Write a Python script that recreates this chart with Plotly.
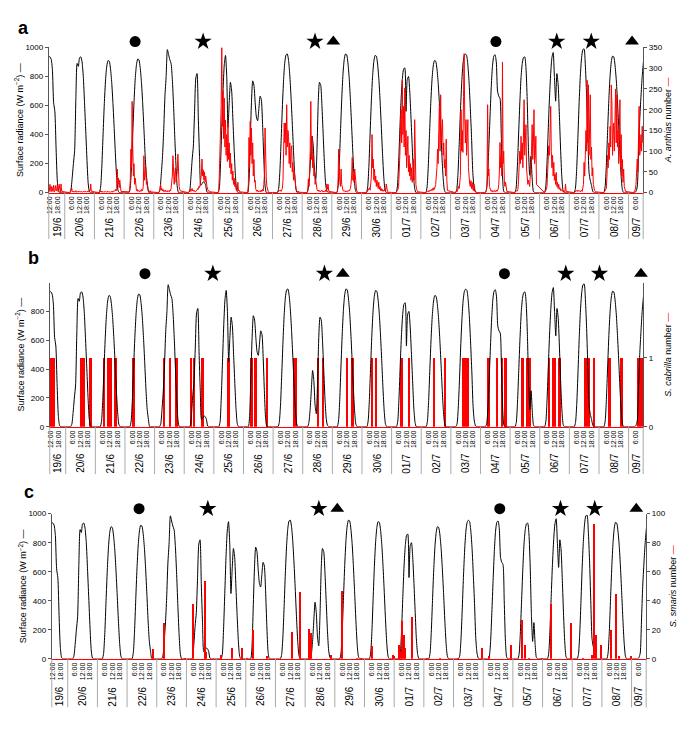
import plotly.graph_objects as go

W, H = 685, 733

# time axis in hours counted from 19/6 00:00
day_labels = ["19/6", "20/6", "21/6", "22/6", "23/6", "24/6", "25/6", "26/6", "27/6", "28/6",
              "29/6", "30/6", "01/7", "02/7", "03/7", "04/7", "05/7", "06/7", "07/7", "08/7", "09/7"]
hour_ticks = [6, 12, 18]
hour_text = ["6:00", "12:00", "18:00"]
t_start, t_end = 11.1, 491.8

# surface radiance (W m-2), one value per hour (0..23) for every day
radiance = [
    [None] * 11 + [940, 935, 920, 850, 620, 560, 300, 80, 10, 0, 0, 0, 0],
    [0, 0, 0, 0, 0, 20, 100, 200, 290, 650, 890, 870, 930, 935, 900, 800, 620, 420, 220, 60, 5, 0, 0, 0],
    [0, 0, 0, 0, 0, 38, 182, 402, 613, 776, 872, 910, 905, 853, 757, 613, 441, 259, 105, 19, 0, 0, 0, 0],
    [0, 0, 0, 0, 0, 39, 184, 407, 620, 784, 881, 920, 915, 862, 765, 620, 445, 261, 120, 50, 0, 0, 0, 0],
    [0, 0, 0, 0, 0, 20, 120, 240, 420, 660, 800, 985, 950, 915, 890, 780, 600, 380, 180, 40, 0, 0, 0, 0],
    [0, 0, 0, 0, 0, 10, 100, 225, 320, 560, 790, 820, 520, 250, 50, 60, 75, 70, 50, 5, 0, 0, 0, 0],
    [0, 0, 0, 0, 0, 30, 200, 450, 700, 880, 945, 800, 450, 620, 760, 700, 500, 300, 120, 20, 0, 0, 0, 0],
    [0, 0, 0, 0, 0, 80, 350, 620, 770, 740, 620, 520, 495, 580, 665, 640, 470, 230, 50, 0, 0, 0, 0, 0],
    [0, 0, 0, 0, 0, 30, 150, 360, 590, 780, 900, 950, 955, 910, 810, 660, 480, 290, 120, 25, 0, 0, 0, 0],
    [0, 0, 0, 0, 0, 30, 120, 260, 390, 320, 150, 90, 300, 620, 760, 740, 600, 400, 200, 60, 10, 0, 0, 0],
    [0, 0, 0, 0, 0, 40, 191, 422, 643, 814, 915, 955, 950, 894, 794, 643, 462, 271, 111, 20, 0, 0, 0, 0],
    [0, 0, 0, 0, 0, 40, 189, 418, 637, 806, 905, 945, 940, 886, 786, 637, 458, 269, 109, 20, 0, 0, 0, 0],
    [0, 0, 0, 0, 0, 40, 200, 430, 640, 780, 850, 860, 560, 780, 800, 700, 520, 320, 130, 30, 0, 0, 0, 0],
    [0, 0, 0, 0, 0, 38, 182, 402, 613, 776, 872, 910, 905, 853, 757, 613, 441, 259, 105, 19, 0, 0, 0, 0],
    [0, 0, 0, 0, 0, 20, 130, 330, 560, 750, 880, 940, 955, 945, 880, 760, 580, 380, 140, 40, 5, 0, 0, 0],
    [0, 0, 0, 0, 0, 20, 120, 320, 540, 740, 880, 940, 950, 900, 700, 665, 650, 400, 120, 10, 0, 0, 0, 0],
    [0, 0, 0, 0, 0, 30, 170, 390, 610, 790, 890, 930, 935, 860, 640, 300, 120, 250, 100, 10, 0, 0, 0, 0],
    [0, 0, 0, 0, 0, 40, 200, 430, 650, 820, 930, 965, 800, 630, 820, 750, 540, 300, 110, 15, 0, 0, 0, 0],
    [0, 0, 0, 0, 0, 30, 160, 380, 620, 810, 930, 985, 990, 880, 680, 400, 140, 85, 50, 10, 0, 0, 0, 0],
    [0, 0, 0, 0, 0, 40, 188, 415, 633, 801, 900, 940, 935, 880, 781, 633, 455, 267, 109, 20, 0, 0, 0, 0],
    [0, 0, 0, 0, 0, 0, 10, 40, 260, 500, 660, 800, 900] + [None] * 11,
]

# A. anthias counts, half-hourly from 4:00 to 21:30 of every day
anthias = [
    [None] * 14 + [14, 3, 20, 5, 2, 15, 8, 3, 18, 2, 5, 17, 4, 6, 19, 3, 5, 20, 2, 0, 21, 3],
    [0, 0, 3, 13, 5, 2, 4, 1, 3, 2, 5, 1, 2, 3, 1, 2, 4, 2, 1, 3, 2, 1, 3, 1, 2, 4, 2, 1, 3, 2, 1, 2, 6, 4, 21, 3],
    [0, 5, 2, 4, 1, 2, 3, 1, 2, 1, 3, 1, 2, 1, 3, 2, 1, 2, 1, 3, 2, 1, 4, 2, 3, 5, 8, 4, 10, 57, 20, 35, 12, 30, 8, 3],
    [2, 5, 30, 105, 60, 220, 110, 40, 70, 20, 35, 10, 5, 8, 3, 6, 4, 2, 5, 3, 8, 4, 6, 15, 89, 30, 45, 61, 20, 25, 8, 4, 3, 2, 5, 2],
    [0, 3, 8, 21, 6, 10, 4, 8, 3, 5, 2, 6, 3, 4, 2, 5, 3, 2, 6, 4, 10, 25, 40, 89, 30, 20, 45, 60, 25, 35, 50, 93, 30, 15, 8, 4],
    [0, 2, 4, 8, 3, 5, 10, 4, 6, 3, 5, 2, 4, 3, 6, 10, 8, 15, 12, 20, 30, 45, 81, 40, 55, 30, 50, 25, 40, 20, 15, 8, 5, 3, 4, 2],
    [0, 5, 40, 100, 147, 210, 350, 160, 245, 130, 228, 110, 175, 90, 140, 75, 168, 80, 120, 60, 95, 45, 70, 30, 52, 20, 35, 15, 25, 8, 12, 5, 25, 4, 6, 2],
    [0, 20, 133, 60, 172, 90, 156, 70, 120, 40, 80, 25, 30, 8, 5, 3, 6, 2, 4, 3, 5, 2, 6, 3, 8, 4, 20, 45, 156, 60, 33, 15, 6, 3, 2, 0],
    [0, 2, 3, 5, 4, 6, 3, 8, 10, 30, 80, 168, 120, 168, 90, 212, 110, 150, 136, 70, 120, 60, 100, 113, 50, 73, 30, 55, 41, 15, 10, 5, 3, 2, 4, 1],
    [0, 5, 33, 15, 50, 100, 220, 80, 136, 60, 89, 40, 55, 20, 30, 10, 8, 4, 6, 3, 5, 2, 4, 3, 6, 2, 3, 5, 4, 2, 6, 3, 21, 8, 20, 3],
    [0, 3, 20, 105, 40, 25, 15, 57, 20, 10, 6, 4, 3, 5, 2, 4, 3, 2, 5, 3, 4, 6, 10, 20, 40, 85, 30, 45, 25, 57, 41, 15, 6, 3, 2, 0],
    [0, 2, 3, 5, 8, 12, 6, 20, 40, 140, 60, 81, 30, 57, 25, 40, 15, 30, 20, 10, 25, 8, 15, 5, 10, 4, 8, 3, 6, 4, 10, 5, 21, 6, 3, 1],
    [0, 3, 5, 8, 15, 40, 90, 150, 200, 120, 271, 140, 208, 110, 252, 90, 150, 60, 110, 136, 50, 90, 40, 70, 30, 60, 25, 40, 80, 30, 176, 50, 20, 8, 4, 2],
    [0, 2, 3, 4, 2, 5, 3, 6, 4, 8, 5, 10, 6, 12, 8, 15, 20, 40, 60, 105, 70, 150, 212, 100, 236, 120, 160, 176, 90, 120, 60, 80, 40, 129, 30, 5],
    [0, 2, 5, 3, 8, 15, 10, 30, 41, 200, 100, 150, 97, 232, 335, 180, 120, 176, 90, 136, 176, 60, 30, 20, 15, 29, 10, 25, 8, 5, 20, 4, 3, 2, 1, 0],
    [0, 2, 5, 20, 212, 40, 57, 15, 8, 5, 3, 6, 2, 4, 3, 5, 2, 4, 6, 3, 5, 8, 20, 50, 121, 60, 90, 40, 315, 70, 100, 30, 15, 25, 8, 3],
    [0, 2, 3, 5, 4, 8, 30, 60, 100, 70, 136, 80, 120, 60, 150, 224, 90, 130, 164, 57, 40, 20, 30, 25, 15, 40, 60, 100, 164, 80, 120, 200, 70, 90, 136, 20],
    [0, 2, 4, 8, 15, 40, 60, 113, 90, 136, 208, 100, 60, 90, 40, 73, 30, 45, 20, 49, 15, 25, 10, 20, 8, 12, 5, 8, 4, 3, 6, 2, 3, 2, 21, 3],
    [0, 2, 3, 2, 5, 3, 6, 4, 3, 5, 2, 4, 6, 3, 10, 20, 73, 40, 89, 150, 100, 271, 120, 260, 90, 140, 236, 80, 110, 40, 60, 20, 10, 5, 3, 2],
    [0, 2, 3, 5, 10, 40, 90, 60, 120, 80, 160, 110, 260, 216, 90, 140, 168, 100, 180, 250, 120, 236, 110, 150, 70, 120, 224, 60, 140, 40, 80, 25, 57, 15, 6, 3],
    [0, 2, 4, 8, 20, 40, 81, 50, 120, 208, 90, 105, 140, 100, 160, 120] + [None] * 20,
]

# S. cabrilla presence (number = 1) periods, hours from 19/6 00:00
cabrilla_start = [11.1, 35.5, 37.7, 42.5, 53.8, 57.3, 63.5, 77.2, 102.7, 107.5, 112.3, 124.4, 127.1, 133.5,
                  154.5, 173.2, 176.5, 186.7, 207.6, 227.5, 231.5, 251.1, 255.7, 271.8, 274.5, 295.4, 301.3,
                  321.7, 330.3, 345.1, 365.7, 372.7, 376.5, 379.2, 392.9, 396.7, 414.4, 417.6, 422.9, 443.9,
                  450.6, 463.0, 473.5, 486.4]
cabrilla_end = [14.9, 36.9, 39.1, 45.2, 55.7, 61.0, 65.1, 80.1, 104.3, 108.8, 115.0, 126.3, 128.9, 136.2,
                157.1, 175.2, 178.4, 188.1, 210.8, 228.8, 233.1, 252.5, 257.0, 273.1, 275.8, 296.8, 302.7,
                323.0, 331.6, 350.4, 367.3, 373.8, 378.4, 381.4, 394.8, 401.0, 416.2, 420.8, 424.9, 448.6,
                452.8, 465.4, 475.1, 491.8]

# S. smaris counts (non-zero records)
smaris_time = [92.7, 101.6, 119.0, 125.0, 134.9, 135.8, 147.9, 156.5, 164.9, 168.9, 173.5, 184.8, 205.3,
               212.0, 219.0, 220.6, 236.8, 245.4, 257.8, 261.0, 269.7, 286.6, 287.9, 292.1, 293.3, 294.4,
               295.5, 296.4, 302.0, 314.3, 324.8, 339.2, 358.6, 364.7, 382.2, 391.1, 393.8, 397.0, 407.8,
               414.5, 430.7, 440.2, 448.2, 449.5, 450.9, 455.0, 463.0, 467.6, 469.7, 479.1]
smaris_count = [7, 25, 1, 38, 54, 5, 3, 8, 8, 1, 20, 2, 19,
                46, 21, 18, 3, 47, 1, 1, 9, 3, 2, 10, 5, 26,
                17, 8, 29, 1, 1, 1, 8, 2, 10, 27, 10, 1, 1,
                38, 25, 1, 3, 93, 17, 10, 20, 45, 2, 2]

# event symbols above each panel
event_symbols = ["circle", "star", "star", "triangle-up", "circle", "star", "star", "triangle-up"]
event_time_a = [80.9, 135.9, 226.4, 241.2, 372.7, 421.9, 449.8, 482.8]
event_time_b = [88.2, 143.2, 233.6, 248.5, 379.4, 429.1, 456.4, 490.0]
event_time_c = [81.7, 137.3, 227.1, 242.0, 373.4, 422.5, 450.2, 483.8]


def fx(px):
    return px / W


def fy(py):
    return 1 - py / H


rad_x, rad_y = [], []
for d, day in enumerate(radiance):
    for h, v in enumerate(day):
        rad_x.append(24 * d + h)
        rad_y.append(v)

anth_x, anth_y = [], []
for d, day in enumerate(anthias):
    for i, v in enumerate(day):
        anth_x.append(24 * d + 4 + 0.5 * i)
        anth_y.append(v)

tickvals, ticktext = [], []
for d in range(len(day_labels)):
    for h, txt in zip(hour_ticks, hour_text):
        t = 24 * d + h
        if t_start <= t <= t_end:
            tickvals.append(t)
            ticktext.append(txt)

RED = "#ff0000"
AXC = "#555555"
FONT = "Liberation Sans, Arial, sans-serif"

# pixel geometry of the three panels
panels = [
    dict(letter="a", x0=46, x1=643, top=44, bottom=191, sep=238, lab=226, sym=38,
         lx=16, rx=668, let_xy=(21, 24), events=event_time_a,
         right_title="<i>A. anthias</i> number <span style='color:#ff0000'>—</span>"),
    dict(letter="b", x0=47, x1=643, top=282, bottom=428, sep=476, lab=465, sym=273,
         lx=17, rx=668, let_xy=(31, 257), events=event_time_b,
         right_title="<i>S. cabrilla</i> number <span style='color:#ff0000'>—</span>"),
    dict(letter="c", x0=49, x1=646, top=516, bottom=663, sep=712, lab=701, sym=511,
         lx=20, rx=673, let_xy=(26, 494), events=event_time_c,
         right_title="<i>S. smaris</i> number <span style='color:#ff0000'>—</span>"),
]

fig = go.Figure()

# panel a
fig.add_trace(go.Scatter(x=rad_x, y=rad_y, mode="lines", line=dict(color="black", width=1, shape="spline", smoothing=0.6),
                         xaxis="x", yaxis="y", hoverinfo="skip"))
fig.add_trace(go.Scatter(x=anth_x, y=anth_y, mode="lines", line=dict(color=RED, width=1),
                         xaxis="x", yaxis="y2", hoverinfo="skip"))
# panel b
fig.add_trace(go.Bar(x=cabrilla_start, y=[1] * len(cabrilla_start),
                     width=[e - s for s, e in zip(cabrilla_start, cabrilla_end)], offset=0,
                     marker=dict(color=RED, line=dict(width=0)), xaxis="x2", yaxis="y4", hoverinfo="skip"))
fig.add_trace(go.Scatter(x=rad_x, y=rad_y, mode="lines", line=dict(color="black", width=1, shape="spline", smoothing=0.6),
                         xaxis="x2", yaxis="y3", hoverinfo="skip"))
# panel c
fig.add_trace(go.Scatter(x=rad_x, y=rad_y, mode="lines", line=dict(color="black", width=1, shape="spline", smoothing=0.6),
                         xaxis="x3", yaxis="y5", hoverinfo="skip"))
fig.add_trace(go.Bar(x=smaris_time, y=smaris_count, width=0.9,
                     marker=dict(color=RED, line=dict(width=0)), xaxis="x3", yaxis="y6", hoverinfo="skip"))

# event symbols
for k, p in enumerate(panels):
    fig.add_trace(go.Scatter(x=p["events"], y=[0.5] * len(p["events"]), mode="markers", cliponaxis=False,
                             marker=dict(symbol=event_symbols, color="#000000", opacity=1, line=dict(width=0),
                                         size=[11 if s == "circle" else 13 if s == "star" else 12 for s in event_symbols]),
                             xaxis=["x", "x2", "x3"][k], yaxis=["y7", "y8", "y9"][k], hoverinfo="skip"))

ycommon = dict(showgrid=False, zeroline=False, showline=True, linecolor=AXC, linewidth=1,
               ticks="outside", ticklen=3, tickcolor=AXC, tickfont=dict(size=8, color="black"))
xcommon = dict(range=[t_start, t_end], showgrid=False, zeroline=False, showline=True, linecolor=RED,
               linewidth=1, ticks="", tickvals=tickvals, ticktext=ticktext, tickangle=-90,
               tickfont=dict(size=7, color="black"))

layout = dict(
    width=W, height=H, margin=dict(l=0, r=0, t=0, b=0),
    paper_bgcolor="white", plot_bgcolor="white", showlegend=False,
    font=dict(family=FONT, color="black"), bargap=0,
)
pa, pb, pc = panels
layout["xaxis"] = dict(xcommon, domain=[fx(pa["x0"]), fx(pa["x1"])], anchor="y")
layout["xaxis2"] = dict(xcommon, domain=[fx(pb["x0"]), fx(pb["x1"])], anchor="y4")
layout["xaxis3"] = dict(xcommon, domain=[fx(pc["x0"]), fx(pc["x1"])], anchor="y5")

layout["yaxis"] = dict(ycommon, domain=[fy(pa["bottom"]), fy(pa["top"])], anchor="x", range=[0, 1000],
                       tickvals=[0, 200, 400, 600, 800, 1000])
layout["yaxis2"] = dict(ycommon, overlaying="y", side="right", anchor="x", range=[0, 350],
                        tickvals=[0, 50, 100, 150, 200, 250, 300, 350])
layout["yaxis4"] = dict(ycommon, domain=[fy(pb["bottom"]), fy(pb["top"])], anchor="x2", side="right",
                        range=[0, 2.09], tickvals=[0, 1])
layout["yaxis3"] = dict(ycommon, overlaying="y4", side="left", anchor="x2", range=[0, 1000],
                        tickvals=[0, 200, 400, 600, 800])
layout["yaxis5"] = dict(ycommon, domain=[fy(pc["bottom"]), fy(pc["top"])], anchor="x3", range=[0, 1000],
                        tickvals=[0, 200, 400, 600, 800, 1000])
layout["yaxis6"] = dict(ycommon, overlaying="y5", side="right", anchor="x3", range=[0, 100],
                        tickvals=[0, 20, 40, 60, 80, 100])
for k, p in enumerate(panels):
    layout["yaxis%d" % (7 + k)] = dict(domain=[fy(p["sym"] + 6), fy(p["sym"] - 6)], range=[0, 1],
                                       anchor=["x", "x2", "x3"][k], visible=False)

shapes, annotations = [], []
for k, p in enumerate(panels):
    xr = ["x", "x2", "x3"][k]
    for d in range(1, len(day_labels)):
        shapes.append(dict(type="line", xref=xr, yref="paper", x0=24 * d, x1=24 * d,
                           y0=fy(p["bottom"]), y1=fy(p["sep"]), line=dict(color="#aaaaaa", width=1)))
    for edge in (0, 1):
        shapes.append(dict(type="line", xref=xr + " domain", yref="paper", x0=edge, x1=edge,
                           y0=fy(p["bottom"]), y1=fy(p["sep"]), line=dict(color="#aaaaaa", width=1)))
    for d, lab in enumerate(day_labels):
        a = max(24 * d, t_start)
        b = min(24 * d + 24, t_end)
        annotations.append(dict(x=(a + b) / 2, y=fy(p["lab"]), xref=xr, yref="paper", text=lab,
                                textangle=-90, showarrow=False, font=dict(size=10),
                                xanchor="center", yanchor="middle"))
    annotations.append(dict(x=fx(p["let_xy"][0]), y=fy(p["let_xy"][1]), xref="paper", yref="paper",
                            text="<b>%s</b>" % p["letter"], showarrow=False, font=dict(size=18),
                            xanchor="center", yanchor="middle"))
    annotations.append(dict(x=fx(p["lx"]), y=fy((p["top"] + p["bottom"]) / 2), xref="paper", yref="paper",
                            text="Surface radiance (W m<sup>−2</sup>) —", textangle=-90, showarrow=False,
                            font=dict(size=9), xanchor="center", yanchor="middle"))
    annotations.append(dict(x=fx(p["rx"]), y=fy((p["top"] + p["bottom"]) / 2), xref="paper", yref="paper",
                            text=p["right_title"], textangle=-90, showarrow=False,
                            font=dict(size=9), xanchor="center", yanchor="middle"))

layout["shapes"] = shapes
layout["annotations"] = annotations
fig.update_layout(**layout)

# the page's default body margin would shift the fixed-size figure
fig.write_html("out.html", config={"displayModeBar": False},
               post_script="document.body.style.margin='0';document.body.style.padding='0';")
